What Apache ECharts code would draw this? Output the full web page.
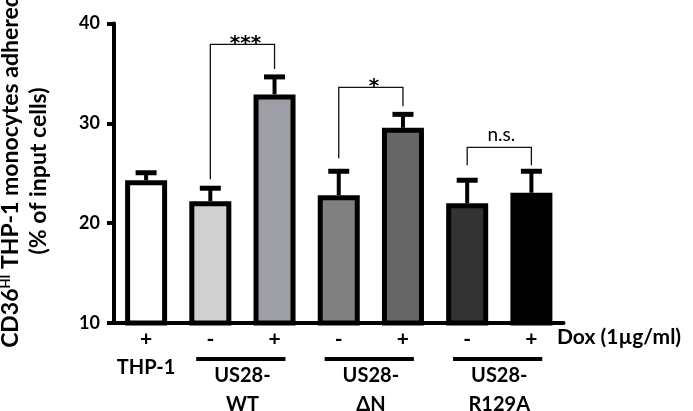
<!DOCTYPE html>
<html><head><meta charset="utf-8">
<script src="https://cdn.jsdelivr.net/npm/echarts@6/dist/echarts.min.js"></script>
<style>html,body{margin:0;padding:0;background:#fff}#c{width:693px;height:411px}</style>
</head><body><div id="c"></div>
<script>
// ---- data ----
const categories = ['THP-1', 'US28-WT -', 'US28-WT +', 'US28-ΔN -', 'US28-ΔN +', 'US28-R129A -', 'US28-R129A +'];
const doxSigns = ['+', '-', '+', '-', '+', '-', '+'];
const means = [24.3, 22.2, 32.9, 22.8, 29.55, 22.0, 23.05];
const errUpper = [25.05, 23.5, 34.65, 25.2, 30.9, 24.3, 25.2];
const barColors = ['#ffffff', '#d0d0d1', '#9e9ea6', '#808080', '#666666', '#333333', '#000000'];
const yMin = 10, yMax = 40, yStep = 10;
// significance brackets
const bracketLeft = [1, 3, 5];
const bracketRight = [2, 4, 6];
const bracketLeftFoot = [24.4, 26.5, 25.8];
const bracketTop = [37.9, 33.6, 27.6];
const bracketRightFoot = [35.45, 31.7, 25.8];
const bracketLabels = ['***', '*', 'n.s.'];
// group labels under the axis
const groupStart = [0, 1, 3, 5];
const groupEnd = [0, 2, 4, 6];
const groupLine1 = ['THP-1', 'US28-', 'US28-', 'US28-'];
const groupLine2 = ['', 'WT', 'ΔN', 'R129A'];
const groupUnderline = [false, true, true, true];
const doxLabel = 'Dox (1µg/ml)';
const yTitle1 = 'CD36';
const yTitleSup = 'HI';
const yTitle1b = ' THP-1 monocytes adhered';
const yTitle2 = '(% of input cells)';

const FONT = 'Lato';
const chart = echarts.init(document.getElementById('c'), null, {renderer: 'canvas'});

const errData = means.map((m, i) => [i, m, errUpper[i]]);
const brData = bracketLabels.map((l, k) => [bracketLeft[k], bracketRight[k], bracketLeftFoot[k], bracketTop[k], bracketRightFoot[k], k]);
const grpData = groupLine1.map((l, k) => [groupStart[k], groupEnd[k], k]);

const titleRich = {
  b: {fontFamily: FONT, fontSize: 23, fontWeight: 'bold', color: '#000', lineHeight: 28},
  s: {fontFamily: FONT, fontSize: 13, fontWeight: 'bold', color: '#000', lineHeight: 28, verticalAlign: 'top', padding: [2, 0, 0, 0]}
};

chart.setOption({
  animation: false,
  backgroundColor: '#fff',
  grid: {left: 114, right: 129.5, top: 23.5, bottom: 88, containLabel: false, outerBoundsMode: 'none'},
  graphic: [
    {type: 'text', x: 11, y: 171, rotation: Math.PI / 2,
     style: {text: '{b|' + yTitle1 + '}{s|' + yTitleSup + '}{b|' + yTitle1b + '}', rich: titleRich, align: 'center', verticalAlign: 'middle'}},
    {type: 'text', x: 39, y: 171, rotation: Math.PI / 2,
     style: {text: '{b|' + yTitle2 + '}', rich: titleRich, align: 'center', verticalAlign: 'middle'}}
  ],
  xAxis: {
    type: 'category', data: categories,
    axisLine: {lineStyle: {color: '#000', width: 4}},
    axisTick: {show: false},
    axisLabel: {formatter: (v, i) => doxSigns[i], color: '#000', fontFamily: FONT, fontSize: 21, fontWeight: 'bold', margin: 6, interval: 0},
    name: doxLabel, nameLocation: 'end', nameGap: 0,
    nameTextStyle: {color: '#000', fontFamily: FONT, fontSize: 21, fontWeight: 'bold', align: 'left', verticalAlign: 'top', padding: [4, 0, 0, -6.5]}
  },
  yAxis: {
    type: 'value', min: yMin, max: yMax, interval: yStep,
    axisLine: {show: true, lineStyle: {color: '#000', width: 4}},
    axisTick: {show: true, length: 7, lineStyle: {color: '#000', width: 4}},
    splitLine: {show: false},
    axisLabel: {color: '#000', fontFamily: FONT, fontSize: 18, fontWeight: 'bold', margin: 14}
  },
  series: [
    {
      type: 'custom', z: 1, clip: false,
      data: errData,
      renderItem: (params, api) => {
        const top = api.coord([api.value(0), api.value(2)]);
        const base = api.coord([api.value(0), api.value(1)]);
        return {type: 'group', children: [
          {type: 'line', shape: {x1: top[0], y1: top[1], x2: base[0], y2: base[1]}, style: {stroke: '#000', lineWidth: 4}},
          {type: 'line', shape: {x1: top[0] - 10.5, y1: top[1], x2: top[0] + 10.5, y2: top[1]}, style: {stroke: '#000', lineWidth: 5}}
        ]};
      }
    },
    {
      type: 'bar', z: 2, barWidth: 42,
      data: means.map((v, i) => ({value: v, itemStyle: {color: barColors[i]}})),
      itemStyle: {borderColor: '#000', borderWidth: 5}
    },
    {
      type: 'custom', z: 3, clip: false,
      data: brData,
      renderItem: (params, api) => {
        const k = api.value(5);
        const l = api.coord([api.value(0), api.value(2)]);
        const lt = api.coord([api.value(0), api.value(3)]);
        const r = api.coord([api.value(1), api.value(4)]);
        const rt = api.coord([api.value(1), api.value(3)]);
        const label = bracketLabels[k];
        const stars = label.indexOf('*') >= 0;
        return {type: 'group', children: [
          {type: 'polyline', shape: {points: [l, lt, rt, r]}, style: {stroke: '#111', lineWidth: 1.3, fill: null}},
          {type: 'text', x: (lt[0] + rt[0]) / 2 + (stars ? 3 : 2), y: lt[1] + (stars ? 9 : -3),
           style: {text: label, fill: '#000', fontFamily: stars ? 'DejaVu Sans' : FONT, fontSize: stars ? 20 : 19,
                   fontWeight: stars ? 'bold' : 'normal', align: 'center', verticalAlign: 'bottom'}}
        ]};
      }
    },
    {
      type: 'custom', z: 3, clip: false,
      data: grpData,
      renderItem: (params, api) => {
        const k = api.value(2);
        const a = api.coord([api.value(0), yMin]);
        const b = api.coord([api.value(1), yMin]);
        const bw = api.size([1, 0])[0];
        const cx = (a[0] + b[0]) / 2;
        const ts = {fill: '#000', fontFamily: FONT, fontSize: 20, fontWeight: 'bold', align: 'center', verticalAlign: 'middle'};
        const children = [];
        if (groupUnderline[k]) {
          children.push({type: 'line', shape: {x1: a[0] - bw * 0.22, y1: a[1] + 36, x2: b[0] + bw * 0.17, y2: b[1] + 36}, style: {stroke: '#000', lineWidth: 4}});
          children.push({type: 'text', x: cx, y: a[1] + 53, style: Object.assign({text: groupLine1[k]}, ts)});
          children.push({type: 'text', x: cx, y: a[1] + 82, style: Object.assign({text: groupLine2[k]}, ts)});
        } else {
          children.push({type: 'text', x: cx, y: a[1] + 45, style: Object.assign({text: groupLine1[k]}, ts)});
        }
        return {type: 'group', children};
      }
    }
  ]
});
</script></body></html>
